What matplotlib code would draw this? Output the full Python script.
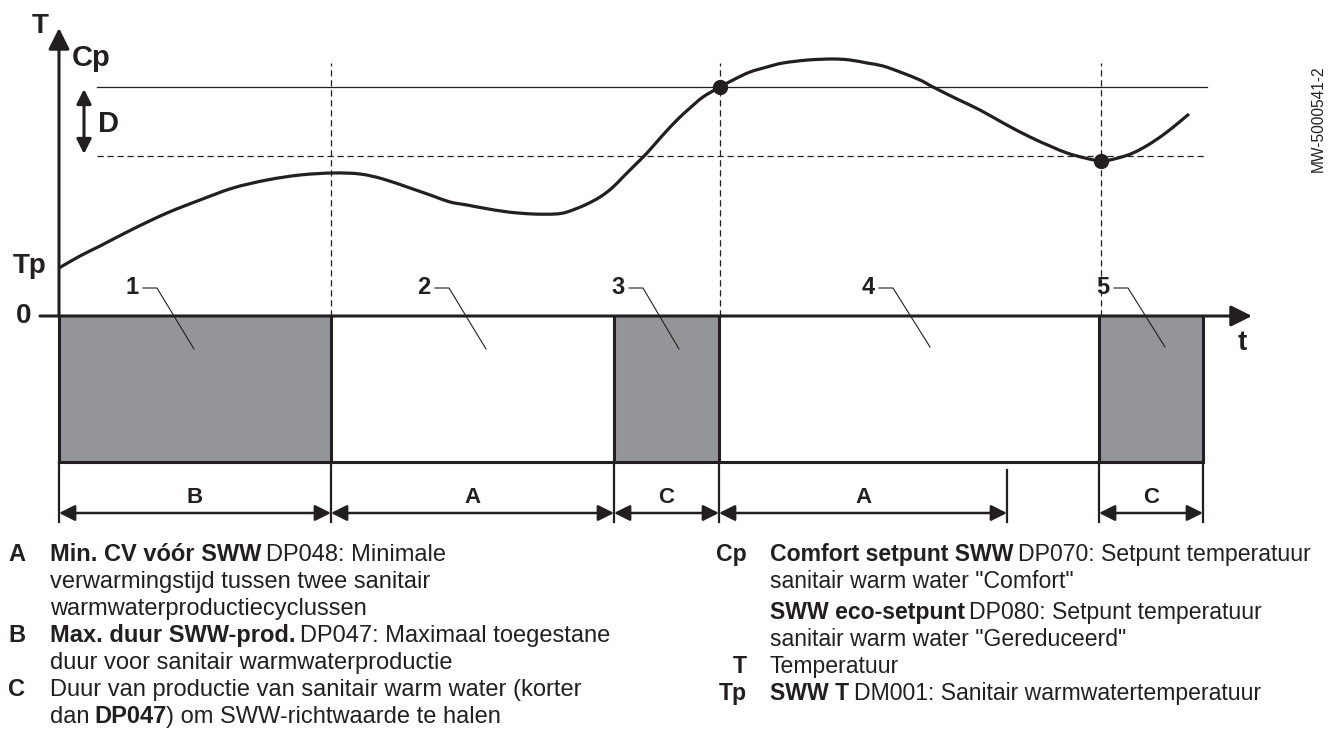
import matplotlib.pyplot as plt
from matplotlib import font_manager
from matplotlib.path import Path
from matplotlib.patches import PathPatch

# curve: SWW temperature over time (t from the T axis, T from the 0 line)
time_pts = [0, 21, 41, 74, 108, 141, 174, 208, 241, 274, 301, 324, 351, 374, 391,
            408, 424, 449, 474, 496, 508, 526, 541, 553, 564, 576, 588, 603, 618,
            631, 644, 661, 676, 691, 708, 724, 749, 774, 791, 808, 824, 841, 861,
            874, 898, 921, 946, 971, 991, 1008, 1026, 1043, 1059, 1074, 1089, 1104,
            1118, 1130]
temp_pts = [48, 60, 70, 87, 103, 116, 128, 136, 141, 143, 142, 137, 128, 120, 114,
            111, 108, 104, 102, 102, 104, 111, 119, 128, 139, 151, 163, 180, 196,
            208, 219, 229, 237, 244, 249, 253, 256, 257, 256, 253, 250, 244, 236,
            229, 217, 206, 192, 179, 170, 163, 158, 155, 158, 163, 171, 181,
            192, 202]

comfort_sp = 229   # Cp
eco_sp = 160       # eco setpoint (Cp - D)
setpoint_span = (38, 1148)

# phases: SWW production (grey) / heating (white)
phase_edges = [0, 272, 555, 660, 1040, 1144]
phase_sww = [True, False, True, False, True]
phase_nums = ['1', '2', '3', '4', '5']
bar_depth = 146

# switch moments (dot on the curve)
switch_t = [661, 1042]
switch_T = [229, 155]
guide_t = [272, 661, 1042]

# dimension arrows under the bars
dim_labels = ['B', 'A', 'C', 'A', 'C']
dim_start = [0, 272, 555, 660, 1040]
dim_end = [272, 555, 660, 948, 1144]

INK = '#231f20'
GREY = '#939598'

names = {f.name for f in font_manager.fontManager.ttflist}
NARROW = 'Liberation Sans Narrow' if 'Liberation Sans Narrow' in names else 'Liberation Sans'
plt.rcParams['font.family'] = ['Liberation Sans', 'DejaVu Sans']

fig = plt.figure(figsize=(13.29, 7.31), dpi=100)
ax = fig.add_axes([0, 0, 1, 1])
ax.set_xlim(-59, 1270)
ax.set_ylim(-415, 316)
ax.axis('off')


def P(x, y):
    # page pixel -> diagram units
    return x - 59, 316 - y


def smooth_path(xs, ys):
    # Catmull-Rom through the points, handed to matplotlib as cubic Beziers
    pts = list(zip(xs, ys))
    pts = [pts[0]] + pts + [pts[-1]]
    verts = [pts[1]]
    codes = [Path.MOVETO]
    for i in range(1, len(pts) - 2):
        p0, p1, p2, p3 = pts[i - 1], pts[i], pts[i + 1], pts[i + 2]
        c1 = (p1[0] + (p2[0] - p0[0]) / 6, p1[1] + (p2[1] - p0[1]) / 6)
        c2 = (p2[0] - (p3[0] - p1[0]) / 6, p2[1] - (p3[1] - p1[1]) / 6)
        verts += [c1, c2, p2]
        codes += [Path.CURVE4] * 3
    return Path(verts, codes)


# setpoint lines
ax.plot(setpoint_span, [comfort_sp, comfort_sp], color=INK, lw=0.9)
ax.plot(setpoint_span, [eco_sp, eco_sp], color=INK, lw=0.9, dashes=(5, 3))
for t in guide_t:
    ax.plot([t, t], [0, 253], color=INK, lw=0.9, dashes=(5, 3))

# phase blocks
for i in range(len(phase_sww)):
    t0, t1 = phase_edges[i], phase_edges[i + 1]
    ax.fill_between([t0, t1], -bar_depth, 0, color=GREY if phase_sww[i] else 'white',
                    lw=0, zorder=1)
for t in phase_edges:
    ax.plot([t, t], [-bar_depth, 0], color=INK, lw=2.2, zorder=3)
ax.plot([phase_edges[0], phase_edges[-1]], [-bar_depth, -bar_depth], color=INK, lw=2.2,
        zorder=3, solid_capstyle='projecting')

# temperature curve
ax.add_patch(PathPatch(smooth_path(time_pts, temp_pts), fill=False, ec=INK, lw=2.3,
                       capstyle='butt', zorder=4))
ax.plot(switch_t, switch_T, 'o', color=INK, ms=10, zorder=5)

# axes with arrows
ax.annotate('', xy=P(1252, 316), xytext=P(40, 316),
            arrowprops=dict(arrowstyle='-|>', lw=2.2, color=INK, mutation_scale=32,
                            shrinkA=0, shrinkB=0), zorder=6)
ax.annotate('', xy=P(59, 28), xytext=P(59, 316),
            arrowprops=dict(arrowstyle='-|>', lw=2.2, color=INK, mutation_scale=32,
                            shrinkA=0, shrinkB=0), zorder=6)
ax.annotate('', xy=(25, eco_sp + 2), xytext=(25, comfort_sp - 2),
            arrowprops=dict(arrowstyle='<|-|>', lw=2.2, color=INK, mutation_scale=22,
                            shrinkA=0, shrinkB=0))

bold = dict(color=INK, fontweight='bold', ha='center', va='center')
ax.text(*P(40, 26), 'T', fontsize=20, **bold)
ax.text(*P(91, 58), 'Cp', fontsize=21, **bold)
ax.text(*P(109, 124), 'D', fontsize=21, **bold)
ax.text(*P(30, 266), 'Tp', fontsize=20, **bold)
ax.text(*P(24, 316), '0', fontsize=20, **bold)
ax.text(*P(1242, 343), 't', fontsize=20, **bold)

# phase numbers with leaders
num_x = [132, 424, 618, 868, 1103]
leader_end = [(194, 349), (486, 349), (679, 349), (930, 347), (1165, 347)]
for n, x, (ex, ey) in zip(phase_nums, num_x, leader_end):
    ax.text(*P(x, 287), n, fontsize=17, **bold)
    xs = [x + 11, x + 25, ex]
    ys = [288, 288, ey]
    ax.plot([v - 59 for v in xs], [316 - v for v in ys], color=INK, lw=0.8, zorder=5)

# dimension arrows
for lab, a, b in zip(dim_labels, dim_start, dim_end):
    ax.annotate('', xy=(b, -197), xytext=(a, -197),
                arrowprops=dict(arrowstyle='<|-|>', lw=1.8, color=INK, mutation_scale=24,
                                shrinkA=0, shrinkB=0))
    ax.text((a + b) / 2, -181, lab, fontsize=16, **bold)
for t in phase_edges:
    ax.plot([t, t], [-bar_depth, -206], color=INK, lw=1.6)
ax.plot([dim_end[3], dim_end[3]], [-154, -206], color=INK, lw=1.6)

ax.text(*P(1318, 119), 'MW-5000541-2', rotation=90, fontsize=11.2, color=INK,
        ha='center', va='center')


# key
def rich(x, y, parts, size=17):
    prev = None
    for txt, heavy in parts:
        kw = dict(fontsize=size, family=[NARROW, 'DejaVu Sans'], color=INK,
                  fontweight='bold' if heavy else 'normal', va='baseline')
        if prev is None:
            prev = ax.text(*P(x, y), txt, ha='left', **kw)
        else:
            prev = ax.annotate(txt, xy=(1, 316 - y), xycoords=(prev, 'data'),
                               xytext=(3.2 if txt[0] != ')' else 0, 0),
                               textcoords='offset points', ha='left', **kw)


def key(letter, x_right, y, size=17):
    ax.text(*P(x_right, y), letter, fontsize=size, family=[NARROW, 'DejaVu Sans'],
            color=INK, fontweight='bold', ha='right', va='baseline')


left, lkey = 50, 25
key('A', lkey, 561)
rich(left, 561, [('Min. CV vóór SWW', True), ('DP048: Minimale', False)])
rich(left, 588, [('verwarmingstijd tussen twee sanitair', False)])
rich(left, 615, [('warmwaterproductiecyclussen', False)])
key('B', lkey, 642)
rich(left, 642, [('Max. duur SWW-prod.', True), ('DP047: Maximaal toegestane', False)])
rich(left, 669, [('duur voor sanitair warmwaterproductie', False)])
key('C', lkey, 696)
rich(left, 696, [('Duur van productie van sanitair warm water (korter', False)])
rich(left, 723, [('dan', False), ('DP047', True), (') om SWW-richtwaarde te halen', False)])

right, rkey, rs = 770, 747, 16.6
key('Cp', rkey, 561, rs)
rich(right, 561, [('Comfort setpunt SWW', True), ('DP070: Setpunt temperatuur', False)], rs)
rich(right, 588, [('sanitair warm water "Comfort"', False)], rs)
rich(right, 619, [('SWW eco-setpunt', True), ('DP080: Setpunt temperatuur', False)], rs)
rich(right, 646, [('sanitair warm water "Gereduceerd"', False)], rs)
key('T', rkey, 673, rs)
rich(right, 673, [('Temperatuur', False)], rs)
key('Tp', rkey, 700, rs)
rich(right, 700, [('SWW T', True), ('DM001: Sanitair warmwatertemperatuur', False)], rs)

fig.savefig('out.png', dpi=100, facecolor='white')
